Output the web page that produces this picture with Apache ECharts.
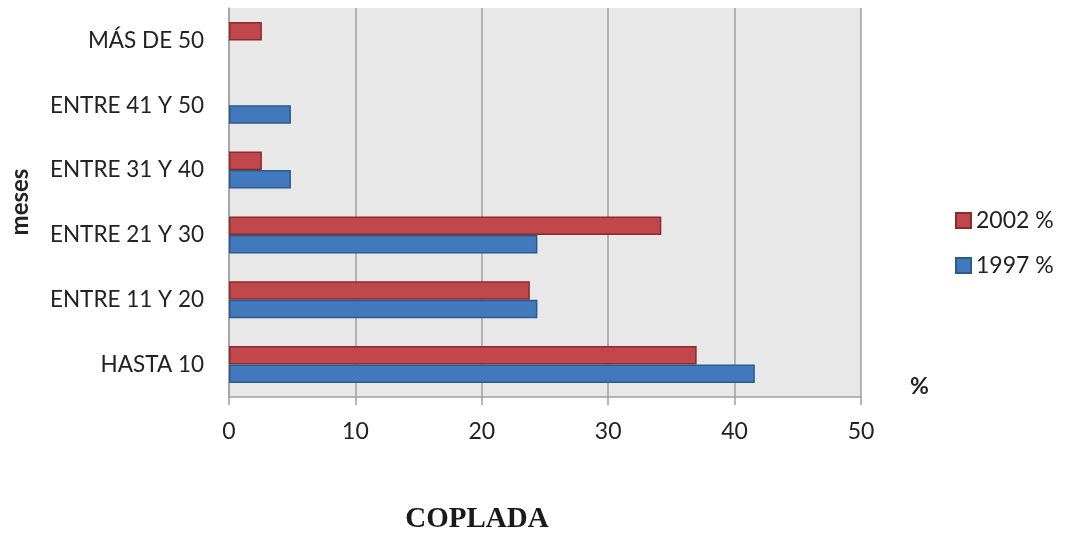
<!DOCTYPE html>
<html>
<head>
<meta charset="utf-8">
<script src="https://cdn.jsdelivr.net/npm/echarts@6/dist/echarts.min.js"></script>
<style>
  html, body { margin: 0; padding: 0; background: #ffffff; }
  #chart { width: 1065px; height: 533px; }
</style>
</head>
<body>
<div id="chart"></div>
<script>
// Duration categories (months), bottom to top
const categories = ['HASTA 10', 'ENTRE 11 Y 20', 'ENTRE 21 Y 30', 'ENTRE 31 Y 40', 'ENTRE 41 Y 50', 'MÁS DE 50'];
// Share of cases per category, in percent
const values1997 = [41.6, 24.4, 24.4, 4.9, 4.9, null];
const values2002 = [37.0, 23.8, 34.2, 2.6, null, 2.6];
const xTicks = [0, 10, 20, 30, 40, 50];

const FONT = 'Lato, "Open Sans", sans-serif';

const chart = echarts.init(document.getElementById('chart'));
chart.setOption({
  animation: false,
  backgroundColor: '#ffffff',
  title: {
    text: 'COPLADA',
    left: 472, top: 500,
    textAlign: 'center',
    textStyle: { fontFamily: '"Liberation Serif", "DejaVu Serif", serif', fontWeight: 'bold', fontSize: 29, color: '#1a1a1a' }
  },
  legend: {
    data: ['2002 %', '1997 %'],
    orient: 'vertical',
    left: 950, top: 204,
    itemWidth: 15, itemHeight: 15,
    itemGap: 22,
    icon: 'rect',
    textStyle: { fontFamily: FONT, fontSize: 23, color: '#222' }
  },
  grid: { left: 229, right: 204, top: 8, bottom: 136, show: true, backgroundColor: '#e8e8e8', borderWidth: 0 },
  xAxis: {
    type: 'value', min: 0, max: 50, interval: 10,
    axisLine: { show: true, lineStyle: { color: '#a0a0a0', width: 1.5 } },
    axisTick: { show: true, inside: false, length: 8, lineStyle: { color: '#a0a0a0', width: 1.5 } },
    splitLine: { show: true, lineStyle: { color: '#a0a0a0', width: 1.5 } },
    axisLabel: { margin: 23, fontFamily: FONT, fontSize: 23, color: '#222', formatter: v => xTicks.includes(v) ? String(v) : '' }
  },
  yAxis: {
    type: 'category', data: categories,
    axisLine: { show: true, lineStyle: { color: '#a0a0a0', width: 1.5 } },
    axisTick: { show: false },
    axisLabel: { margin: 25, fontFamily: FONT, fontSize: 22.5, color: '#222' }
  },
  graphic: [
    { type: 'text', x: 20, y: 202, rotation: Math.PI / 2, style: { text: 'meses', fontFamily: FONT, fontWeight: 'bold', fontSize: 24, fill: '#222', textAlign: 'center', textVerticalAlign: 'middle' } },
    { type: 'text', x: 910, y: 375, style: { text: '%', fontFamily: FONT, fontWeight: 'bold', fontSize: 23, fill: '#222' } }
  ],
  series: [
    {
      name: '2002 %', type: 'bar', data: values2002,
      barWidth: 18.5, barGap: '0%',
      itemStyle: { color: '#c0484a', borderColor: '#8c2b2b', borderWidth: 1.5 }
    },
    {
      name: '1997 %', type: 'bar', data: values1997,
      barWidth: 18.5, barGap: '0%',
      itemStyle: { color: '#4279bd', borderColor: '#2b5a8f', borderWidth: 1.5 }
    }
  ]
});
</script>
</body>
</html>
